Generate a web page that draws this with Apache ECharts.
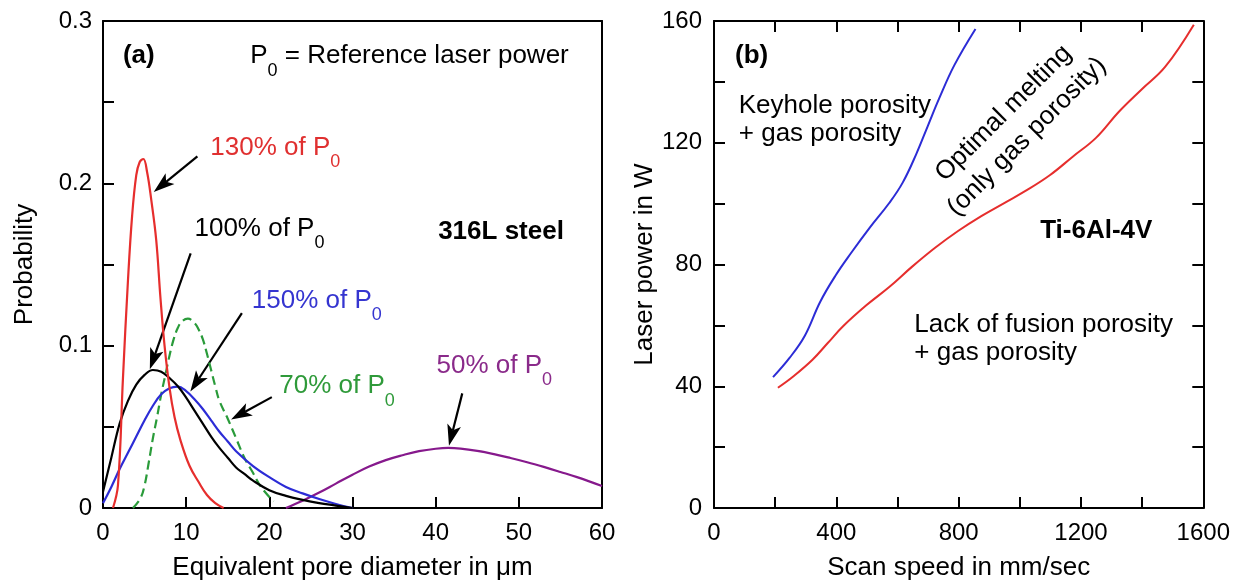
<!DOCTYPE html>
<html>
<head>
<meta charset="utf-8">
<script src="https://cdn.jsdelivr.net/npm/echarts@6/dist/echarts.min.js"></script>
<style>
html,body{margin:0;padding:0;background:#fff;}
#c{width:1233px;height:586px;}
</style>
</head>
<body>
<div id="c"></div>
<script>
// ---------- Data: panel (a) ----------
const redX   = [1.2, 1.8, 2.4, 3.0, 3.5, 4.0, 4.4, 4.85, 5.3, 5.8, 6.4, 6.9, 7.4, 8.0, 8.6, 9.3, 10.4, 11.5, 12.5, 13.5, 14.5];
const redY   = [0, 0.014, 0.08, 0.14, 0.18, 0.205, 0.213, 0.215, 0.207, 0.19, 0.165, 0.13, 0.1, 0.074, 0.056, 0.042, 0.026, 0.016, 0.008, 0.003, 0];
const blackX = [0, 1, 2, 3, 4, 5, 6, 7, 8, 9, 10, 11, 12, 13, 14, 15, 16, 17, 18, 20, 22, 24, 26, 28, 30];
const blackY = [0.01, 0.031, 0.052, 0.066, 0.076, 0.082, 0.085, 0.084, 0.08, 0.075, 0.068, 0.06, 0.052, 0.044, 0.037, 0.031, 0.025, 0.021, 0.017, 0.011, 0.0075, 0.005, 0.003, 0.0015, 0];
const blueX  = [0, 1, 2, 3, 4, 5, 6, 7, 8, 9, 10, 11, 12, 13, 14, 15, 16, 18, 20, 22, 24, 26, 28, 30];
const blueY  = [0.003, 0.013, 0.024, 0.034, 0.044, 0.054, 0.063, 0.07, 0.0738, 0.0748, 0.072, 0.067, 0.061, 0.054, 0.047, 0.041, 0.035, 0.026, 0.019, 0.013, 0.009, 0.0055, 0.0025, 0];
const greenX = [3.6, 4.5, 5.0, 5.5, 6.0, 6.5, 7.0, 7.5, 8.0, 8.5, 9.0, 9.5, 10.2, 11.0, 11.5, 12.0, 12.5, 13.0, 13.5, 14.0, 15.0, 16.0, 17.0, 18.0, 19.0, 20.5];
const greenY = [0, 0.006, 0.014, 0.028, 0.043, 0.056, 0.07, 0.082, 0.094, 0.104, 0.111, 0.115, 0.1166, 0.114, 0.11, 0.104, 0.095, 0.085, 0.075, 0.066, 0.055, 0.043, 0.031, 0.022, 0.013, 0.004];
const purpleX = [22, 24, 26, 28, 30, 32, 34, 36, 38, 40, 41.5, 43, 45, 47, 49, 51, 53, 55, 57, 60];
const purpleY = [0, 0.0045, 0.0095, 0.015, 0.0205, 0.0255, 0.0295, 0.0325, 0.035, 0.0365, 0.037, 0.0366, 0.0352, 0.0332, 0.0308, 0.0282, 0.0253, 0.0222, 0.019, 0.0135];

// ---------- Data: panel (b) ----------
const keyholeX = [193, 247, 297, 347, 397, 447, 510, 573, 617, 661, 699, 736, 786, 855];
const keyholeY = [43, 49.3, 56.6, 67.7, 76.3, 83.6, 92.2, 100.2, 106.9, 116.2, 125.5, 134.5, 145.5, 157.4];
const lofX = [209, 259, 322, 372, 422, 497, 573, 648, 723, 798, 874, 949, 1024, 1099, 1174, 1249, 1324, 1399, 1475, 1569];
const lofY = [39.5, 43.2, 48.7, 54.2, 59.7, 66.5, 72.6, 79.3, 85.5, 91, 95.9, 100.2, 104.5, 109.4, 115.5, 121.6, 130.2, 137.6, 144.9, 158.8];

// ---------- Axis tick labels ----------
const aTicksY = [0, 0.1, 0.2, 0.3];
const bTicksX = [0, 400, 800, 1200, 1600];
const bTicksY = [0, 40, 80, 120, 160];

// ---------- Annotations (text, data-coords) ----------
const textsA = [
  {t: '{b|(a)}', x: 2.4, y: 0.2784, c: '#000'},
  {t: 'P{s|0} = Reference laser power', x: 17.7, y: 0.2784, c: '#000'},
  {t: '130% of P{s|0}', x: 12.9, y: 0.2221, c: '#e03030'},
  {t: '100% of P{s|0}', x: 11.0, y: 0.1722, c: '#000'},
  {t: '150% of P{s|0}', x: 17.9, y: 0.1279, c: '#3535d0'},
  {t: '70% of P{s|0}', x: 21.2, y: 0.075, c: '#2f9a3a'},
  {t: '50% of P{s|0}', x: 40.1, y: 0.0876, c: '#8a2a8a'},
  {t: '{b|316L steel}', x: 40.3, y: 0.1704, c: '#000'}
];
const arrowsA = [
  [11.35, 0.2166, 6.1, 0.1947],
  [10.54, 0.1568, 5.63, 0.0855],
  [16.7, 0.12, 10.5, 0.0717],
  [20.3, 0.0683, 15.4, 0.0545],
  [43.2, 0.0706, 41.6, 0.0384]
];
const textsB = [
  {t: '{b|(b)}', x: 68.6, y: 148.5, c: '#000'},
  {t: 'Keyhole porosity', x: 81, y: 132, c: '#000'},
  {t: '+ gas porosity', x: 81, y: 122.8, c: '#000'},
  {t: 'Lack of fusion porosity', x: 655, y: 60.2, c: '#000'},
  {t: '+ gas porosity', x: 655, y: 51, c: '#000'},
  {t: '{b|Ti-6Al-4V}', x: 1250, y: 90.9, c: '#000', center: true}
];
const rotatedB = {t: 'Optimal melting\n(only gas porosity)', x: 985, y: 125.8};

const FONT = 'Liberation Sans, Arial, Helvetica, sans-serif';
const zip = (a, b) => a.map((v, i) => [v, b[i]]);

const chart = echarts.init(document.getElementById('c'), null, {renderer: 'canvas'});

function axisBase(extra) {
  return Object.assign({
    type: 'value',
    splitLine: {show: false},
    axisLine: {show: true, onZero: false, lineStyle: {color: '#000', width: 2}},
    axisTick: {show: true, inside: true, length: 11, lineStyle: {color: '#000', width: 2}},
    axisLabel: {show: true, color: '#000', fontSize: 24, fontFamily: FONT},
    nameTextStyle: {color: '#000', fontSize: 26, fontFamily: FONT}
  }, extra);
}
function fmt(list, dec) {
  return v => {
    for (const t of list) if (Math.abs(v - t) < 1e-9) return t === 0 ? '0' : t.toFixed(dec);
    return '';
  };
}

const option = {
  animation: false,
  backgroundColor: '#fff',
  grid: [
    {left: 103, top: 21, width: 499, height: 489},
    {left: 714, top: 21, width: 499, height: 488}
  ],
  xAxis: [
    axisBase({gridIndex: 0, position: 'bottom', min: 0, max: 60, interval: 10,
      axisLabel: {color: '#000', fontSize: 24, fontFamily: FONT, margin: 13},
      name: 'Equivalent pore diameter in \u03bcm', nameLocation: 'middle', nameGap: 47}),
    axisBase({gridIndex: 0, position: 'top', min: 0, max: 60, interval: 10,
      axisTick: {show: false}, axisLabel: {show: false}}),
    axisBase({gridIndex: 1, position: 'bottom', min: 0, max: 1600, interval: 200,
      axisLabel: {color: '#000', fontSize: 24, fontFamily: FONT, margin: 13, formatter: fmt(bTicksX, 0)},
      name: 'Scan speed in mm/sec', nameLocation: 'middle', nameGap: 47}),
    axisBase({gridIndex: 1, position: 'top', min: 0, max: 1600, interval: 200,
      axisLabel: {show: false}})
  ],
  yAxis: [
    axisBase({gridIndex: 0, position: 'left', min: 0, max: 0.3, interval: 0.05,
      axisLabel: {color: '#000', fontSize: 24, fontFamily: FONT, margin: 11, formatter: fmt(aTicksY, 1)},
      name: 'Probability', nameLocation: 'middle', nameGap: 65}),
    axisBase({gridIndex: 0, position: 'right', min: 0, max: 0.3, interval: 0.05,
      axisTick: {show: false}, axisLabel: {show: false}}),
    axisBase({gridIndex: 1, position: 'left', min: 0, max: 160, interval: 20,
      axisLabel: {color: '#000', fontSize: 24, fontFamily: FONT, margin: 12, formatter: fmt(bTicksY, 0)},
      name: 'Laser power in W', nameLocation: 'middle', nameGap: 49}),
    axisBase({gridIndex: 1, position: 'right', min: 0, max: 160, interval: 20,
      axisLabel: {show: false}})
  ],
  series: [
    {type: 'line', xAxisIndex: 0, yAxisIndex: 0, data: zip(purpleX, purpleY), smooth: 0.4, showSymbol: false, lineStyle: {color: '#86198c', width: 2.2}},
    {type: 'line', xAxisIndex: 0, yAxisIndex: 0, data: zip(greenX, greenY), smooth: 0.4, showSymbol: false, lineStyle: {color: '#2a9b3a', width: 2.2, type: [9, 5]}},
    {type: 'line', xAxisIndex: 0, yAxisIndex: 0, data: zip(blueX, blueY), smooth: 0.4, showSymbol: false, lineStyle: {color: '#2c2cd6', width: 2.2}},
    {type: 'line', xAxisIndex: 0, yAxisIndex: 0, data: zip(blackX, blackY), smooth: 0.4, showSymbol: false, lineStyle: {color: '#000', width: 2.2}},
    {type: 'line', xAxisIndex: 0, yAxisIndex: 0, data: zip(redX, redY), smooth: 0.4, showSymbol: false, lineStyle: {color: '#e62e2d', width: 2.2}},
    {type: 'line', xAxisIndex: 2, yAxisIndex: 2, data: zip(keyholeX, keyholeY), smooth: 0.4, showSymbol: false, lineStyle: {color: '#2c2cd6', width: 2}},
    {type: 'line', xAxisIndex: 2, yAxisIndex: 2, data: zip(lofX, lofY), smooth: 0.4, showSymbol: false, lineStyle: {color: '#e62e2d', width: 2}}
  ]
};
chart.setOption(option);

// ---------- Annotations through the axes' scales ----------
const rich = {
  b: {fontSize: 26, fontWeight: 'bold', fontFamily: FONT, lineHeight: 29},
  s: {fontSize: 18, fontFamily: FONT, lineHeight: 19, padding: [29, 0, 0, 0]}
};
function toPx(g, x, y) {
  const i = g === 0 ? 0 : 2;
  return chart.convertToPixel({xAxisIndex: i, yAxisIndex: i}, [x, y]);
}
const graphics = [];
function addText(g, o) {
  const p = toPx(g, o.x, o.y);
  const r = JSON.parse(JSON.stringify(rich));
  r.s.fill = o.c; r.b.fill = o.c;
  graphics.push({type: 'text', x: p[0], y: p[1], silent: true, style: {
    text: o.t, fill: o.c, fontSize: 26, fontFamily: FONT, lineHeight: 29,
    align: o.center ? 'center' : 'left', verticalAlign: 'middle', rich: r
  }});
}
textsA.forEach(o => addText(0, o));
textsB.forEach(o => addText(1, o));
(function () {
  const p = toPx(1, rotatedB.x, rotatedB.y);
  graphics.push({type: 'text', x: p[0], y: p[1], rotation: Math.PI / 4, silent: true, style: {
    text: rotatedB.t, fill: '#000', fontSize: 26, fontFamily: FONT, lineHeight: 33,
    align: 'center', verticalAlign: 'middle'
  }});
})();
arrowsA.forEach(a => {
  const s = toPx(0, a[0], a[1]);
  const e = toPx(0, a[2], a[3]);
  const dx = e[0] - s[0], dy = e[1] - s[1];
  const L = Math.sqrt(dx * dx + dy * dy);
  const ux = dx / L, uy = dy / L, nx = -uy, ny = ux;
  const hl = 21, hw = 7, notch = 5;
  const bx = e[0] - ux * hl, by = e[1] - uy * hl;
  const mx = e[0] - ux * (hl - notch), my = e[1] - uy * (hl - notch);
  graphics.push({type: 'line', silent: true, shape: {x1: s[0], y1: s[1], x2: mx, y2: my},
    style: {stroke: '#000', lineWidth: 2.2}});
  graphics.push({type: 'polygon', silent: true, shape: {points: [
    [e[0], e[1]], [bx + nx * hw, by + ny * hw], [mx, my], [bx - nx * hw, by - ny * hw]
  ]}, style: {fill: '#000'}});
});
chart.setOption({graphic: graphics});
</script>
</body>
</html>
